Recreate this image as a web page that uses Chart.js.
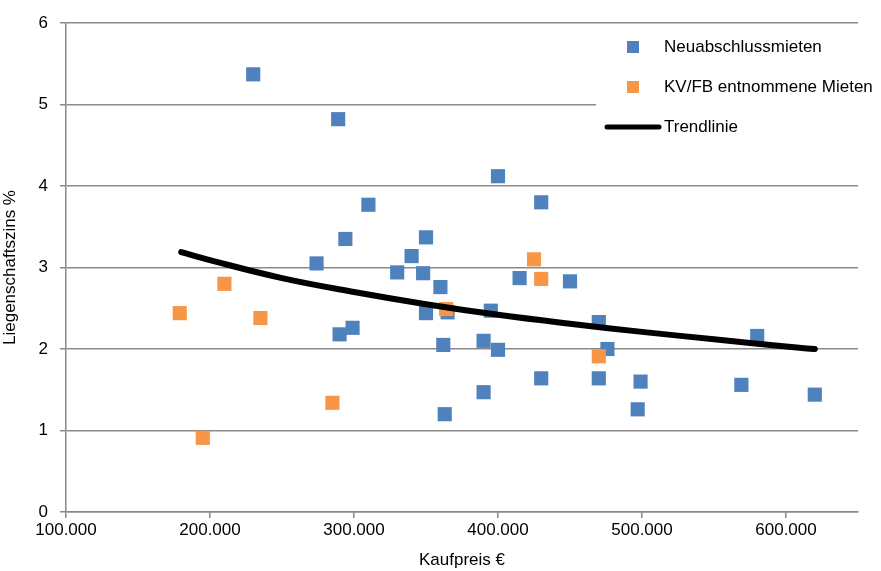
<!DOCTYPE html>
<html>
<head>
<meta charset="utf-8">
<script src="https://cdn.jsdelivr.net/npm/chart.js@4"></script>
<style>
  html, body { margin: 0; padding: 0; background: #fff; }
  #wrap { width: 881px; height: 571px; }
</style>
</head>
<body>
<div id="wrap"><canvas id="grafik" width="881" height="571"></canvas></div>
<script>
// Kaufpreis / Liegenschaftszins
const neuX = [230000, 289000, 400000, 310000, 430000, 294000, 350000, 340000, 274000, 330000, 348000,
              415000, 450000, 360000, 395000, 350000, 365000, 470000, 299000, 290000, 390000, 362000,
              400000, 476000, 580000, 430000, 470000, 499000, 390000, 569000, 497000, 620000, 363000];
const neuY = [5.37, 4.82, 4.12, 3.77, 3.80, 3.35, 3.37, 3.14, 3.05, 2.94, 2.93,
              2.87, 2.83, 2.76, 2.47, 2.44, 2.45, 2.33, 2.26, 2.18, 2.10, 2.05,
              1.99, 2.00, 2.16, 1.64, 1.64, 1.60, 1.47, 1.56, 1.26, 1.44, 1.20];

const kvX = [179000, 195000, 210000, 235000, 285000, 364000, 425000, 430000, 470000];
const kvY = [2.44, 0.91, 2.80, 2.38, 1.34, 2.49, 3.10, 2.86, 1.91];

const trendX = [180000, 200000, 250000, 300000, 350000, 400000, 450000, 500000, 550000, 600000, 620000];
const trendY = [3.19, 3.09, 2.87, 2.70, 2.55, 2.42, 2.31, 2.21, 2.12, 2.03, 2.00];

const xTicks = [100000, 200000, 300000, 400000, 500000, 600000];
const yTicks = [0, 1, 2, 3, 4, 5, 6];

const legendLabels = ['Neuabschlussmieten', 'KV/FB entnommene Mieten', 'Trendlinie'];

const BLAU = '#4F81BD';
const ORANGE = '#F79646';
const GRID = '#8a8a8a';
const FONT = "'Liberation Sans', Arial, sans-serif";
const FS = 17;

function punkte(xs, ys) {
    return xs.map((x, i) => ({ x: x, y: ys[i] }));
}

function tausender(v) {
    return String(v).replace(/\B(?=(\d{3})+(?!\d))/g, '.');
}

// Legende im Diagrammbereich, mit weissem Kasten (wie im Original)
const legendePlugin = {
    id: 'legende',
    afterDraw(chart) {
        const c = chart.ctx;
        c.save();
        c.fillStyle = '#fff';
        c.fillRect(596, 30, 280, 118);
        c.font = FS + 'px ' + FONT;
        c.textBaseline = 'middle';

        c.fillStyle = BLAU;
        c.fillRect(627, 41, 12, 12);
        c.fillStyle = '#000';
        c.fillText(legendLabels[0], 664, 47);

        c.fillStyle = ORANGE;
        c.fillRect(627, 81, 12, 12);
        c.fillStyle = '#000';
        c.fillText(legendLabels[1], 664, 87);

        c.strokeStyle = '#000';
        c.lineWidth = 5;
        c.lineCap = 'round';
        c.beginPath();
        c.moveTo(607, 127);
        c.lineTo(659, 127);
        c.stroke();
        c.fillText(legendLabels[2], 664, 127);
        c.restore();
    }
};

new Chart(document.getElementById('grafik'), {
    type: 'scatter',
    data: {
        datasets: [
            {
                label: legendLabels[2],
                type: 'line',
                data: punkte(trendX, trendY),
                borderColor: '#000',
                borderWidth: 6,
                borderCapStyle: 'round',
                pointRadius: 0,
                tension: 0.4,
                fill: false,
                order: 0
            },
            {
                label: legendLabels[1],
                data: punkte(kvX, kvY),
                pointStyle: 'rect',
                pointRadius: 10,
                pointBorderWidth: 0,
                backgroundColor: ORANGE,
                borderColor: ORANGE,
                order: 1
            },
            {
                label: legendLabels[0],
                data: punkte(neuX, neuY),
                pointStyle: 'rect',
                pointRadius: 10,
                pointBorderWidth: 0,
                backgroundColor: BLAU,
                borderColor: BLAU,
                order: 2
            }
        ]
    },
    options: {
        responsive: false,
        animation: false,
        layout: { padding: { top: 23, right: 23, left: 0, bottom: 0 } },
        plugins: {
            legend: { display: false },
            tooltip: { enabled: false }
        },
        scales: {
            x: {
                type: 'linear',
                min: 100000,
                max: 650000,
                afterBuildTicks: s => { s.ticks = xTicks.map(v => ({ value: v })); },
                afterFit: s => { s.height = 59; },
                ticks: {
                    color: '#000',
                    font: { family: FONT, size: FS },
                    padding: 2,
                    maxRotation: 0,
                    callback: v => tausender(v)
                },
                grid: { drawOnChartArea: false, drawTicks: true, tickLength: 6, color: GRID, lineWidth: 1.5 },
                border: { color: GRID, width: 1.5 },
                title: {
                    display: true,
                    text: 'Kaufpreis €',
                    color: '#000',
                    font: { family: FONT, size: FS },
                    padding: { top: 2, bottom: 0 }
                }
            },
            y: {
                min: 0,
                max: 6,
                afterBuildTicks: s => { s.ticks = yTicks.map(v => ({ value: v })); },
                afterFit: s => { s.width = 66; },
                ticks: {
                    color: '#000',
                    font: { family: FONT, size: FS },
                    padding: 12
                },
                grid: { color: GRID, lineWidth: 1.5, tickLength: 6 },
                border: { color: GRID, width: 1.5 },
                title: {
                    display: true,
                    text: 'Liegenschaftszins %',
                    color: '#000',
                    font: { family: FONT, size: FS },
                    padding: { top: 0, bottom: 0 }
                }
            }
        }
    },
    plugins: [legendePlugin]
});
</script>
</body>
</html>
